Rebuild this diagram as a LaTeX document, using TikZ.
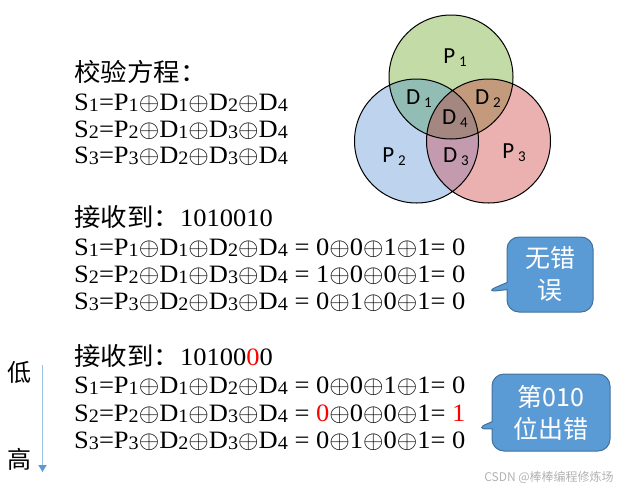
\documentclass[tikz,border=0pt]{standalone}
\usepackage{fontspec}
\setmainfont{Liberation Serif}
\newfontfamily\cjk{Noto Sans CJK SC}
\newfontfamily\calfont{Carlito}
\usetikzlibrary{shapes.callouts,arrows.meta}
\definecolor{gfill}{HTML}{C3DBA6}
\definecolor{bfill}{HTML}{BED4EE}
\definecolor{rfill}{HTML}{EBB1B1}
\definecolor{dA}{HTML}{91BDB4}
\definecolor{dB}{HTML}{C49A7C}
\definecolor{dC}{HTML}{C49AAE}
\definecolor{dD}{HTML}{A38780}
\definecolor{cfill}{HTML}{5B9BD5}
\definecolor{cdraw}{HTML}{41719C}
\definecolor{arrline}{HTML}{9DC3E6}
\newcommand\sbx[1]{\raisebox{-1pt}{\fontsize{19}{19}\selectfont #1}}
\newcommand\xo{\ensuremath{\oplus}}
\newcommand\vsb[1]{\,\raisebox{-3pt}{\fontsize{15}{15}\selectfont #1}}
\newcommand\eq[1]{\scalebox{1.06}[1]{#1}}
\tikzset{
  eqline/.style={anchor=base west, inner sep=0pt, font=\fontsize{25}{30}\selectfont},
  venn/.style={inner sep=0pt, font=\calfont\fontsize{23}{26}\selectfont},
  callbox/.style={rectangle callout, rounded corners=12pt, fill=cfill, draw=cdraw, line width=1pt,
    text=white, inner sep=0pt, align=center, font=\cjk\fontsize{25}{32}\selectfont},
  side/.style={inner sep=0pt, font=\cjk\fontsize{24}{24}\selectfont}
}
\begin{document}
\begin{tikzpicture}[x=1pt,y=-1pt]
\useasboundingbox (0,0) rectangle (618,488);
% Venn diagram
\coordinate (cg) at (451,77);
\coordinate (cb) at (416.5,141);
\coordinate (cr) at (488.5,141);
\fill[gfill] (cg) circle (62);
\fill[bfill] (cb) circle (62);
\fill[rfill] (cr) circle (62);
\begin{scope}\clip (cg) circle (62); \fill[dA] (cb) circle (62); \end{scope}
\begin{scope}\clip (cg) circle (62); \fill[dB] (cr) circle (62); \end{scope}
\begin{scope}\clip (cb) circle (62); \fill[dC] (cr) circle (62); \end{scope}
\begin{scope}\clip (cg) circle (62); \clip (cb) circle (62); \fill[dD] (cr) circle (62); \end{scope}
\draw[line width=1pt] (cg) circle (62) (cb) circle (62) (cr) circle (62);
\node[venn] (p1) at (455,58) {P\vsb{1}};
\node[venn] (d1) at (419,99) {D\vsb{1}};
\node[venn] (d2) at (488,99) {D\vsb{2}};
\node[venn] (d4) at (455,119) {D\vsb{4}};
\node[venn] (p2) at (394,157) {P\vsb{2}};
\node[venn] (d3) at (456,157) {D\vsb{3}};
\node[venn] (p3) at (514,153) {P\vsb{3}};
% Block 1
\node[eqline] (t1) at (74,81) {\eq{\cjk 校验方程：}};
\node[eqline] (a1) at (74,110) {\eq{S\sbx1=P\sbx1\xo D\sbx1\xo D\sbx2\xo D\sbx4}};
\node[eqline] (a2) at (74,137) {\eq{S\sbx2=P\sbx2\xo D\sbx1\xo D\sbx3\xo D\sbx4}};
\node[eqline] (a3) at (74,163) {\eq{S\sbx3=P\sbx3\xo D\sbx2\xo D\sbx3\xo D\sbx4}};
% Block 2
\node[eqline] (t2) at (74,226) {\eq{{\cjk 接收到：}1010010}};
\node[eqline] (b1) at (74,255) {\eq{S\sbx1=P\sbx1\xo D\sbx1\xo D\sbx2\xo D\sbx4 = 0\xo0\xo1\xo1= 0}};
\node[eqline] (b2) at (74,282) {\eq{S\sbx2=P\sbx2\xo D\sbx1\xo D\sbx3\xo D\sbx4 = 1\xo0\xo0\xo1= 0}};
\node[eqline] (b3) at (74,309) {\eq{S\sbx3=P\sbx3\xo D\sbx2\xo D\sbx3\xo D\sbx4 = 0\xo1\xo0\xo1= 0}};
% Block 3
\node[eqline] (t3) at (74,365) {\eq{{\cjk 接收到：}10100\textcolor{red}{0}0}};
\node[eqline] (c1) at (74,393.5) {\eq{S\sbx1=P\sbx1\xo D\sbx1\xo D\sbx2\xo D\sbx4 = 0\xo0\xo1\xo1= 0}};
\node[eqline] (c2) at (74,421) {\eq{S\sbx2=P\sbx2\xo D\sbx1\xo D\sbx3\xo D\sbx4 = \textcolor{red}{0}\xo0\xo0\xo1= \textcolor{red}{1}}};
\node[eqline] (c3) at (74,448) {\eq{S\sbx3=P\sbx3\xo D\sbx2\xo D\sbx3\xo D\sbx4 = 0\xo1\xo0\xo1= 0}};
% side arrow
\node[side] (low) at (20,372) {低};
\node[side] (high) at (20,459) {高};
\coordinate (as) at (42.5,365);
\coordinate (ae) at (42.5,472);
\draw[arrline, line width=1.5pt, -{Triangle[length=7pt,width=8pt,color=cfill]}] (as) -- (ae);
% callouts
\node[callbox, minimum width=86pt, minimum height=75pt, callout absolute pointer={(485,292)}] (m1) at (550,274.5) {无错\\误};
\node[callbox, minimum width=118pt, minimum height=77pt, callout absolute pointer={(475,429)}] (m2) at (551,412.5) {第010\\位出错};
% watermark
\node[inner sep=0pt, text=gray!60, font=\cjk\fontsize{12}{12}\selectfont] (wm) at (549,477) {CSDN @棒棒编程修炼场};
\end{tikzpicture}
\end{document}
